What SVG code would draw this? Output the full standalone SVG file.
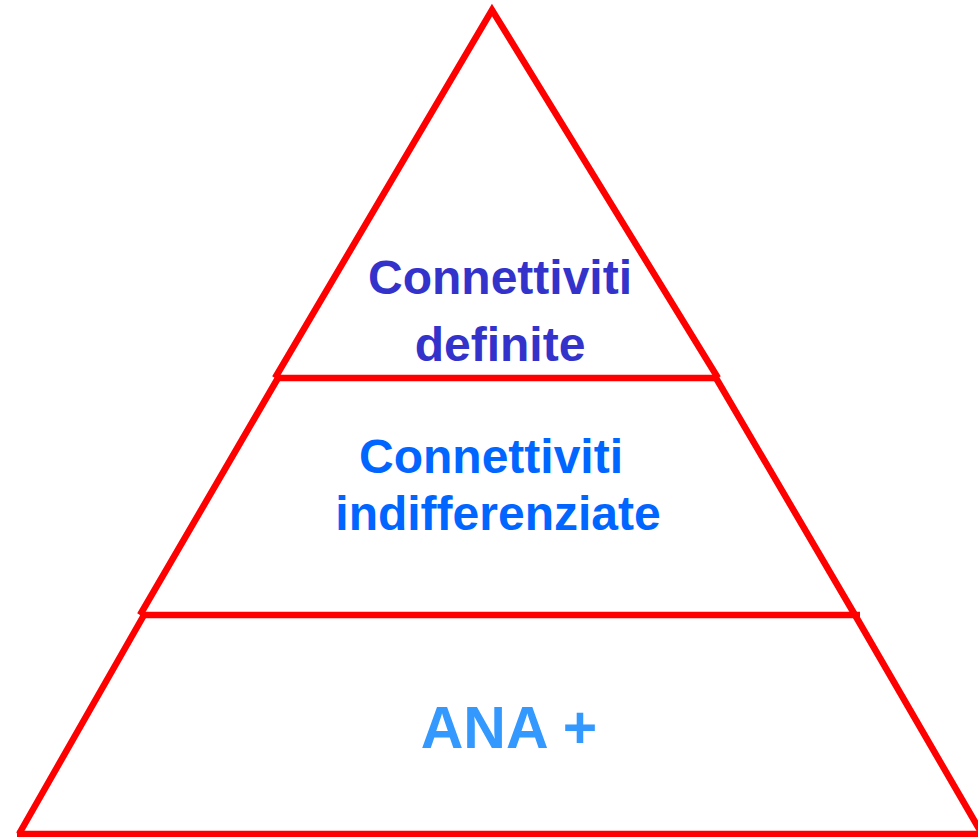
<svg xmlns="http://www.w3.org/2000/svg" width="978" height="837" viewBox="0 0 978 837">
<style>
.edge{stroke:#FF0000;stroke-width:6.5;fill:none;stroke-linecap:butt}
.t{font-family:"Liberation Sans",Arial,sans-serif;font-weight:bold;text-anchor:middle}
</style>
<rect width="978" height="837" fill="#FFFFFF"/>
<g id="connectors">
<path class="edge" d="M275,378 L492,10 L718,378"/>
<line class="edge" x1="275" y1="378" x2="718" y2="378"/>
<path class="edge" d="M278,378 L140,615 M716,378 L855,615"/>
<line class="edge" x1="140" y1="615" x2="860" y2="615"/>
<path class="edge" d="M144,615 L19,834 M855,615 L982,834"/>
<line class="edge" x1="17" y1="834" x2="978" y2="834"/>
</g>
<g id="top">
<text class="t" x="500" y="294" font-size="48" fill="#3333CC">Connettiviti</text>
<text class="t" x="500" y="361" font-size="48" fill="#3333CC">definite</text>
</g>
<g id="middle">
<text class="t" x="491" y="473" font-size="48" fill="#0066FF">Connettiviti</text>
<text class="t" x="498" y="530" font-size="48" fill="#0066FF">indifferenziate</text>
</g>
<g id="bottom">
<text class="t" x="509" y="748" font-size="59" fill="#3399FF">ANA +</text>
</g>
</svg>
